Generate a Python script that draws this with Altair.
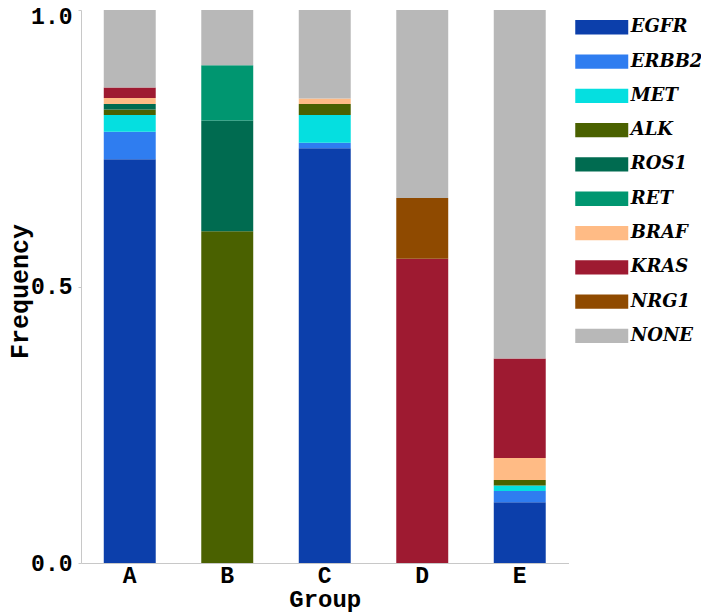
import altair as alt
import pandas as pd

groups = ["A", "B", "C", "D", "E"]
genes = ["EGFR", "ERBB2", "MET", "ALK", "ROS1", "RET", "BRAF", "KRAS", "NRG1", "NONE"]
colors = ["#0c3fab", "#2f7df0", "#05dfe0", "#4a6100", "#006b50", "#009670",
          "#ffbb85", "#9e1a31", "#8f4a00", "#b8b8b8"]

freq_A = [0.73, 0.05, 0.03, 0.01, 0.01, 0.0, 0.011, 0.019, 0.0, 0.14]
freq_B = [0.0, 0.0, 0.0, 0.60, 0.20, 0.10, 0.0, 0.0, 0.0, 0.10]
freq_C = [0.75, 0.01, 0.05, 0.02, 0.0, 0.0, 0.01, 0.0, 0.0, 0.16]
freq_D = [0.0, 0.0, 0.0, 0.0, 0.0, 0.0, 0.0, 0.55, 0.11, 0.34]
freq_E = [0.11, 0.02, 0.01, 0.01, 0.0, 0.0, 0.04, 0.18, 0.0, 0.63]

rows = []
for g, vals in zip(groups, [freq_A, freq_B, freq_C, freq_D, freq_E]):
    for i, (gene, v) in enumerate(zip(genes, vals)):
        rows.append({"Group": g, "Gene": gene, "Frequency": v, "order": i})
df = pd.DataFrame(rows)

mono = "Liberation Mono"

chart = alt.Chart(df).mark_bar().encode(
    x=alt.X("Group:N", sort=groups,
            scale=alt.Scale(paddingInner=0.467, paddingOuter=0.2335),
            axis=alt.Axis(labelAngle=0, ticks=False, labelPadding=1,
                          titlePadding=0, titleFontSize=24)),
    y=alt.Y("Frequency:Q", stack="zero",
            scale=alt.Scale(domain=[0, 1], nice=False),
            axis=alt.Axis(values=[0, 0.5, 1], format=".1f", grid=False,
                          tickSize=3, labelPadding=6, titlePadding=-2,
                          titleFontSize=25, titleY=281,
                          labelOffset={"condition": {"test": "datum.value == 1", "value": 6},
                                       "value": 0})),
    color=alt.Color("Gene:N", sort=genes,
                    scale=alt.Scale(domain=genes, range=colors),
                    legend=alt.Legend(title=None, orient="none",
                                      legendX=507.25, legendY=3.75,
                                      symbolType="M-2,-0.54H2V0.54H-2Z",
                                      symbolSize=702, symbolStrokeWidth=0,
                                      symbolOpacity=1,
                                      labelFont="DejaVu Serif", labelFontSize=18,
                                      labelFontWeight="bold", labelFontStyle="italic",
                                      labelColor="#000", labelOffset=15.5,
                                      rowPadding=11.3, padding=0)),
    order=alt.Order("order:Q", sort="ascending"),
).properties(
    width=487.5, height=553,
    autosize=alt.AutoSizeParams(type="none"),
    padding={"left": 73, "top": 2, "right": 132.5, "bottom": 54},
).configure_axis(
    labelFont=mono, labelFontSize=23, labelFontWeight="bold", labelColor="#000",
    titleFont=mono, titleFontSize=26, titleFontWeight="bold", titleColor="#000",
    domainColor="#c8c8c8", tickColor="#c8c8c8",
).configure_view(stroke=None)

chart.save("out.html", embed_options={"renderer": "svg", "actions": False})
